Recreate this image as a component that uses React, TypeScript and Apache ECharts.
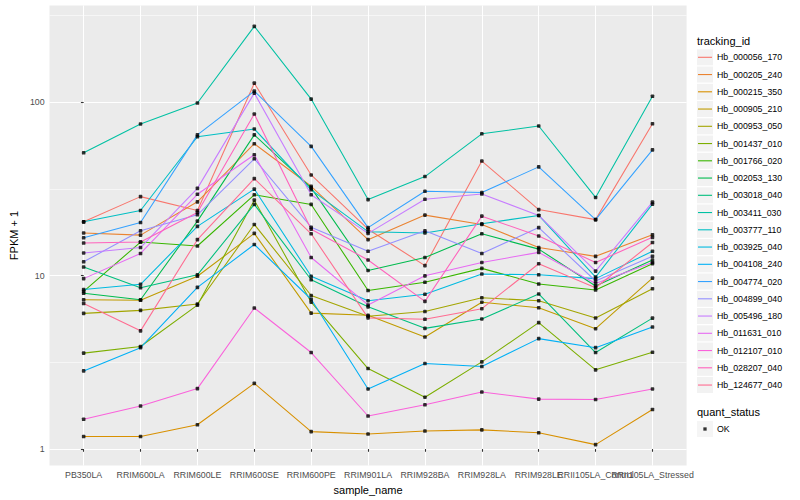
import React, { useEffect, useRef } from 'react';
import * as echarts from 'echarts';

// ---------- data ----------
const CATEGORIES = [
  'PB350LA', 'RRIM600LA', 'RRIM600LE', 'RRIM600SE', 'RRIM600PE', 'RRIM901LA',
  'RRIM928BA', 'RRIM928LA', 'RRIM928LE', 'RRII105LA_Control', 'RRII105LA_Stressed',
];

const TRACKING_IDS = [
  'Hb_000056_170', 'Hb_000205_240', 'Hb_000215_350', 'Hb_000905_210', 'Hb_000953_050',
  'Hb_001437_010', 'Hb_001766_020', 'Hb_002053_130', 'Hb_003018_040', 'Hb_003411_030',
  'Hb_003777_110', 'Hb_003925_040', 'Hb_004108_240', 'Hb_004774_020', 'Hb_004899_040',
  'Hb_005496_180', 'Hb_011631_010', 'Hb_012107_010', 'Hb_028207_040', 'Hb_124677_040',
];

const COLORS = [
  '#F8766D', '#EA8331', '#D89000', '#C09B00', '#A3A500', '#7CAE00', '#39B600', '#00BB4E',
  '#00BF7D', '#00C1A3', '#00BFC4', '#00BAE0', '#00B0F6', '#35A2FF', '#9590FF', '#C77CFF',
  '#E76BF3', '#FA62DB', '#FF62BC', '#FF6C91',
];

// FPKM + 1 per sample (same order as CATEGORIES)
const HB_000056_170 = [20.4, 28.5, 23.7, 128.5, 38, 18.5, 11.4, 45.7, 24.0, 21.0, 75];
const HB_000205_240 = [17.6, 17.1, 26.6, 57.5, 32.7, 16.1, 22.3, 19.7, 14.5, 12.9, 17.2];
const HB_000215_350 = [1.18, 1.18, 1.38, 2.39, 1.26, 1.22, 1.27, 1.29, 1.24, 1.06, 1.69];
const HB_000905_210 = [7.25, 7.2, 9.9, 17.5, 6.07, 5.9, 4.42, 7.02, 6.52, 4.94, 9.66];
const HB_000953_050 = [6.05, 6.3, 6.86, 19.7, 7.67, 5.83, 6.2, 7.45, 7.16, 5.69, 8.4];
const HB_001437_010 = [3.57, 3.9, 6.75, 27.2, 7.02, 2.91, 1.99, 3.18, 5.35, 2.86, 3.61];
const HB_001766_020 = [8.1, 15.6, 14.8, 29.2, 25.7, 8.2, 9.15, 11.0, 8.94, 8.25, 11.7];
const HB_002053_130 = [7.9, 7.25, 20.6, 64.7, 32.0, 10.7, 12.7, 17.4, 14.2, 8.7, 12.3];
const HB_003018_040 = [11.2, 8.5, 10.1, 25.7, 9.46, 6.6, 4.96, 5.62, 7.83, 3.6, 5.68];
const HB_003411_030 = [51, 74.8, 98.7, 273, 104, 27.4, 37.2, 65.6, 72.8, 28.2, 108];
const HB_003777_110 = [20.4, 23.7, 63.1, 70, 31.2, 17.9, 17.6, 19.9, 22.2, 9.8, 25.8];
const HB_003925_040 = [8.3, 8.9, 19.2, 31.5, 9.9, 7.16, 7.8, 10.2, 10.1, 9.6, 13.8];
const HB_004108_240 = [2.82, 3.84, 8.55, 15.1, 7.3, 2.22, 3.11, 2.99, 4.33, 3.84, 5.05];
const HB_004774_020 = [16.5, 20.2, 64.7, 115.6, 55.5, 18.9, 30.6, 30.1, 42.3, 21.0, 53];
const HB_004899_040 = [12.0, 18.1, 22.4, 47.1, 19.0, 13.8, 18.1, 13.4, 18.9, 9.3, 12.9];
const HB_005496_180 = [13.5, 14.5, 31.8, 112.6, 29.2, 17.5, 27.5, 29.5, 22.2, 10.6, 26.5];
const HB_011631_010 = [9.6, 13.4, 29.4, 49.7, 12.7, 6.77, 9.96, 11.9, 13.6, 9.0, 11.9];
const HB_012107_010 = [1.485, 1.77, 2.23, 6.5, 3.6, 1.55, 1.8, 2.13, 1.94, 1.93, 2.22];
const HB_028207_040 = [15.4, 15.6, 23.1, 85.3, 18.5, 12.3, 7.1, 22.0, 16.9, 11.9, 16.6];
const HB_124677_040 = [6.9, 4.8, 16.1, 36.2, 17.4, 5.7, 5.6, 6.44, 11.7, 8.5, 15.5];

const SERIES_VALUES = [
  HB_000056_170, HB_000205_240, HB_000215_350, HB_000905_210, HB_000953_050,
  HB_001437_010, HB_001766_020, HB_002053_130, HB_003018_040, HB_003411_030,
  HB_003777_110, HB_003925_040, HB_004108_240, HB_004774_020, HB_004899_040,
  HB_005496_180, HB_011631_010, HB_012107_010, HB_028207_040, HB_124677_040,
];

const Y_TICKS = [1, 10, 100];
const Y_MINOR = [3.1623, 31.623, 316.23];
const Y_RANGE = [0.8026, 360.2];
const QUANT_STATUS = 'OK';

// ---------- layout / style ----------
const FONT = '"Liberation Sans", Arial, Helvetica, sans-serif';
const PANEL = { left: 40.8, right: 686.6, top: 5.5, bottom: 469 };
const LEGEND_FIRST_CENTER = 57.3;
const LEGEND_ROW = 17.25;
const OK_CENTER = 429;

const lg = (v: number) => Math.log10(v);

function buildOption() {
  const xIdx = CATEGORIES.map((_, i) => i);
  // labels are split over two axes so that ECharts' min/max-label overlap logic
  // keeps every label (the reference shows the last labels overlapping)
  const SPLIT_LABEL = CATEGORIES.indexOf('RRII105LA_Control');
  const xIdxMain = xIdx.filter((i) => i !== SPLIT_LABEL);
  const yMajor = Y_TICKS.map(lg);
  const yMinor = Y_MINOR.map(lg);

  const lineSeries = SERIES_VALUES.map((vals, i) => ({
    type: 'line',
    name: TRACKING_IDS[i],
    data: vals.map((v, j) => [j, lg(v)]),
    color: COLORS[i],
    showSymbol: false,
    symbol: 'none',
    silent: true,
    lineStyle: { width: 1.07, color: COLORS[i] },
    emphasis: { disabled: true },
    z: 2,
  }));

  const pointData: number[][] = [];
  SERIES_VALUES.forEach((vals) => vals.forEach((v, j) => pointData.push([j, lg(v)])));

  const legendCommon = {
    orient: 'vertical',
    itemGap: 0,
    padding: 0,
    selectedMode: false,
    textStyle: { fontSize: 8.8, color: '#000000', fontFamily: FONT, lineHeight: LEGEND_ROW },
  };

  const xLabelStyle = {
    formatter: (v: number) => CATEGORIES[Math.round(v)] ?? '',
    margin: 4.5,
    fontSize: 8.8,
    color: '#4D4D4D',
    fontFamily: FONT,
    hideOverlap: false,
  };

  return {
    animation: false,
    textStyle: { fontFamily: FONT },
    grid: {
      left: PANEL.left,
      right: 800 - PANEL.right,
      top: PANEL.top,
      bottom: 500 - PANEL.bottom,
      show: true,
      backgroundColor: '#EBEBEB',
      borderWidth: 0,
      borderColor: 'transparent',
    },
    xAxis: [
      {
        type: 'value',
        position: 'bottom',
        min: -0.6,
        max: CATEGORIES.length - 1 + 0.6,
        name: 'sample_name',
        nameLocation: 'middle',
        nameGap: 15.5,
        nameTextStyle: { fontSize: 11, color: '#000000', fontFamily: FONT },
        axisLine: { show: false },
        axisTick: { show: true, length: 2.75, customValues: xIdx, lineStyle: { color: '#333333', width: 1.07 } },
        axisLabel: { ...xLabelStyle, customValues: xIdxMain },
        splitLine: { show: true, customValues: xIdx, lineStyle: { color: '#FFFFFF', width: 1.07 } },
      },
      {
        type: 'value',
        position: 'bottom',
        min: -0.6,
        max: CATEGORIES.length - 1 + 0.6,
        axisLine: { show: false },
        axisTick: { show: false, customValues: [SPLIT_LABEL] },
        axisLabel: { ...xLabelStyle, customValues: [SPLIT_LABEL] },
        splitLine: { show: false },
      },
    ],
    yAxis: [
      {
        type: 'value',
        min: lg(Y_RANGE[0]),
        max: lg(Y_RANGE[1]),
        name: 'FPKM + 1',
        nameLocation: 'middle',
        nameGap: 23,
        nameTextStyle: { fontSize: 11, color: '#000000', fontFamily: FONT },
        axisLine: { show: false },
        axisTick: { show: true, length: 2.75, customValues: yMajor, lineStyle: { color: '#333333', width: 1.07 } },
        axisLabel: {
          customValues: yMajor,
          formatter: (v: number) => {
            const k = yMajor.findIndex((t) => Math.abs(t - v) < 1e-6);
            return k >= 0 ? String(Y_TICKS[k]) : '';
          },
          margin: 4.95,
          fontSize: 8.8,
          color: '#4D4D4D',
          fontFamily: FONT,
        },
        splitLine: { show: true, customValues: yMajor, lineStyle: { color: '#FFFFFF', width: 1.07 } },
      },
      {
        type: 'value',
        min: lg(Y_RANGE[0]),
        max: lg(Y_RANGE[1]),
        axisLine: { show: false },
        axisTick: { show: false, customValues: yMinor },
        axisLabel: { show: false, customValues: yMinor },
        splitLine: { show: true, customValues: yMinor, lineStyle: { color: '#FFFFFF', width: 0.55 } },
      },
    ],
    legend: [
      {
        ...legendCommon,
        data: TRACKING_IDS,
        left: 697,
        top: LEGEND_FIRST_CENTER - LEGEND_ROW / 2,
        icon: 'rect',
        itemWidth: 16,
        itemHeight: 16,
        itemStyle: { color: '#F2F2F2', borderWidth: 0 },
        formatter: () => ' ',
      },
      {
        ...legendCommon,
        data: TRACKING_IDS,
        left: 698,
        top: LEGEND_FIRST_CENTER - LEGEND_ROW / 2,
        icon: 'rect',
        itemWidth: 14,
        itemHeight: 1.1,
        itemStyle: { borderWidth: 0 },
      },
      {
        ...legendCommon,
        data: [QUANT_STATUS],
        left: 697,
        top: OK_CENTER - LEGEND_ROW / 2,
        icon: 'rect',
        itemWidth: 16,
        itemHeight: 16,
        itemStyle: { color: '#F2F2F2', borderWidth: 0 },
        formatter: () => ' ',
      },
      {
        ...legendCommon,
        data: [QUANT_STATUS],
        left: 698,
        top: OK_CENTER - LEGEND_ROW / 2,
        icon: 'path://M0,0M14,14M5.35,5.35h3.3v3.3h-3.3z',
        itemWidth: 14,
        itemHeight: 14,
        itemStyle: { color: '#000000', borderWidth: 0 },
      },
    ],
    graphic: [
      {
        type: 'text',
        x: 697,
        y: 40.7,
        silent: true,
        style: { text: 'tracking_id', fill: '#000000', font: `11px ${FONT}`, verticalAlign: 'middle', align: 'left' },
      },
      {
        type: 'text',
        x: 697,
        y: 412,
        silent: true,
        style: { text: 'quant_status', fill: '#000000', font: `11px ${FONT}`, verticalAlign: 'middle', align: 'left' },
      },
    ],
    series: [
      ...lineSeries,
      {
        type: 'scatter',
        name: QUANT_STATUS,
        data: pointData,
        symbol: 'roundRect',
        symbolSize: 3.6,
        itemStyle: { color: '#000000' },
        silent: true,
        emphasis: { disabled: true },
        z: 3,
      },
    ],
  };
}

export default function App() {
  const ref = useRef<HTMLDivElement>(null);
  useEffect(() => {
    document.body.style.margin = '0';
    if (!ref.current) return;
    const chart = echarts.init(ref.current, null, { renderer: 'svg', width: 800, height: 500 });
    chart.setOption(buildOption() as any);
    return () => chart.dispose();
  }, []);
  return <div ref={ref} style={{ width: 800, height: 500 }} />;
}
